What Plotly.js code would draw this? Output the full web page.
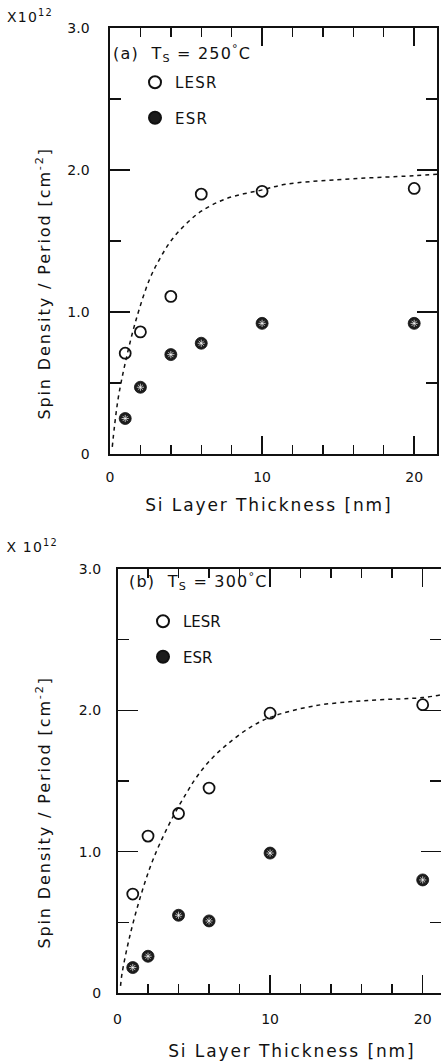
<!DOCTYPE html>
<html>
<head>
<meta charset="utf-8">
<script src="https://cdn.plot.ly/plotly-3.0.1.min.js"></script>
<style>
  html, body { margin: 0; padding: 0; background: #fff; overflow: hidden; }
  #chart { width: 441px; height: 1062px; }
  /* the lettering on these plots is widely spaced */
  #chart .annotation-text, #chart .legendtext { letter-spacing: 1.2px; }
  #chart g.annotation[data-index="2"] .annotation-text,
  #chart g.annotation[data-index="3"] .annotation-text,
  #chart g.annotation[data-index="6"] .annotation-text,
  #chart g.annotation[data-index="7"] .annotation-text { letter-spacing: 1.9px; }
</style>
</head>
<body>
<div id="chart"></div>
<script>
// Si layer thickness (nm) at which spin densities were measured
const thickness = [1, 2, 4, 6, 10, 20];

// (a) Ts = 250 C, spin density per period (x 10^12 cm^-2)
const lesrA = [0.71, 0.86, 1.11, 1.83, 1.85, 1.87];
const esrA  = [0.25, 0.47, 0.70, 0.78, 0.92, 0.92];
// dashed guide curve for (a)
const guideAx = [0.15, 0.3, 0.55, 1.0, 1.7, 2.6, 3.3, 4.0, 4.9, 6.0, 7.7, 10, 11.6, 14.7, 20, 21.5];
const guideAy = [0.05, 0.20, 0.40, 0.64, 0.94, 1.23, 1.38, 1.50, 1.61, 1.71, 1.80, 1.86, 1.90, 1.93, 1.96, 1.97];

// (b) Ts = 300 C
const lesrB = [0.70, 1.11, 1.27, 1.45, 1.98, 2.04];
const esrB  = [0.18, 0.26, 0.55, 0.51, 0.99, 0.80];
// dashed guide curve for (b)
const guideBx = [0.2, 0.3, 0.8, 1.5, 2.35, 3.6, 4.55, 5.2, 6.1, 7.2, 8.7, 10, 12.8, 16.4, 20, 21.2];
const guideBy = [0.05, 0.14, 0.40, 0.68, 0.95, 1.24, 1.42, 1.53, 1.65, 1.76, 1.88, 1.95, 2.03, 2.07, 2.09, 2.11];

// tick labels
const xTickVals = [0, 10, 20];
const xTickText = ['0', '10', '20'];
const yTickVals = [0, 1, 2, 3];
const yTickText = ['0', '1.0', '2.0', '3.0'];

const W = 441, H = 1062;
const fx = p => p / W;
const fy = p => 1 - p / H;

const INK = '#111';
const FONT = 'DejaVu Sans, Verdana, sans-serif';

function lesrTrace(y, xa, ya, lg) {
  return {
    x: thickness, y: y, xaxis: xa, yaxis: ya, legend: lg,
    type: 'scatter', mode: 'markers', name: 'LESR', legendgroup: lg + 'l',
    marker: { symbol: 'circle-open', size: 11, color: INK, line: { width: 1.8, color: INK } },
    cliponaxis: false
  };
}
function esrTrace(y, xa, ya, lg) {
  return {
    x: thickness, y: y, xaxis: xa, yaxis: ya, legend: lg,
    type: 'scatter', mode: 'markers', name: 'ESR', legendgroup: lg + 'e',
    marker: { symbol: 'circle', size: 12, color: '#1c1c1c', line: { width: 0.8, color: INK } },
    cliponaxis: false
  };
}
// speckled fill of the ESR symbols
function esrDots(y, xa, ya) {
  return {
    x: thickness, y: y, xaxis: xa, yaxis: ya, showlegend: false, hoverinfo: 'skip',
    type: 'scatter', mode: 'markers',
    marker: { symbol: 'asterisk-open', size: 6, color: 'rgba(255,255,255,0.7)', line: { width: 1, color: 'rgba(255,255,255,0.7)' } },
    cliponaxis: false
  };
}
function guideTrace(x, y, xa, ya) {
  return {
    x: x, y: y, xaxis: xa, yaxis: ya, showlegend: false, hoverinfo: 'skip',
    type: 'scatter', mode: 'lines',
    line: { color: INK, width: 1.5, dash: '4px,4px', shape: 'spline', smoothing: 1 }
  };
}

const data = [
  guideTrace(guideAx, guideAy, 'x', 'y'),
  lesrTrace(lesrA, 'x', 'y', 'legend'),
  esrTrace(esrA, 'x', 'y', 'legend'),
  esrDots(esrA, 'x', 'y'),
  guideTrace(guideBx, guideBy, 'x2', 'y2'),
  lesrTrace(lesrB, 'x2', 'y2', 'legend2'),
  esrTrace(esrB, 'x2', 'y2', 'legend2'),
  esrDots(esrB, 'x2', 'y2')
];

const tickFont = { family: FONT, size: 14, color: INK };

// ticks point inward on all four sides; long at labelled values, short between
function xAxis(domain, range, anchor, standoff) {
  return {
    domain: domain, range: range, anchor: anchor,
    tickmode: 'array', tickvals: xTickVals, ticktext: xTickText,
    ticks: 'inside', ticklen: 18, tickwidth: 1.5, tickcolor: INK,
    minor: { tickmode: 'linear', tick0: 0, dtick: 2, ticks: 'inside', ticklen: 9, tickwidth: 1.4, tickcolor: INK },
    showline: true, linecolor: INK, linewidth: 1.6, mirror: 'ticks',
    showgrid: false, zeroline: false, fixedrange: true,
    ticklabelstandoff: standoff, tickfont: tickFont
  };
}
function yAxis(domain, anchor, standoff) {
  return {
    domain: domain, range: [0, 3], anchor: anchor,
    tickmode: 'array', tickvals: yTickVals, ticktext: yTickText,
    ticks: 'inside', ticklen: 20, tickwidth: 1.5, tickcolor: INK,
    minor: { tickmode: 'linear', tick0: 0, dtick: 0.5, ticks: 'inside', ticklen: 11, tickwidth: 1.4, tickcolor: INK },
    showline: true, linecolor: INK, linewidth: 1.6, mirror: 'ticks',
    showgrid: false, zeroline: false, fixedrange: true,
    ticklabelstandoff: standoff, tickfont: tickFont
  };
}

function note(text, x, y, opts) {
  return Object.assign({
    text: text, xref: 'paper', yref: 'paper', x: fx(x), y: fy(y),
    xanchor: 'left', yanchor: 'middle', showarrow: false,
    font: { family: FONT, size: 14, color: INK }
  }, opts || {});
}

const legendStyle = {
  xanchor: 'left', yanchor: 'top', bgcolor: 'rgba(0,0,0,0)', borderwidth: 0,
  traceorder: 'grouped', tracegroupgap: 13, itemsizing: 'constant',
  font: { family: FONT, size: 15, color: INK }
};

const titleFont = { family: FONT, size: 16, color: INK };
const xTitleFont = { family: FONT, size: 17, color: INK };
const yTitleFont = { family: FONT, size: 16, color: INK };

const layout = {
  width: W, height: H,
  margin: { l: 0, r: 0, t: 0, b: 0 },
  paper_bgcolor: '#fff', plot_bgcolor: '#fff',
  xaxis: xAxis([fx(110), fx(437)], [0, 21.5], 'y', 10),
  yaxis: yAxis([fy(454), fy(28)], 'x', 16),
  xaxis2: xAxis([fx(117.5), 1], [0, 21.2], 'y2', 13),
  yaxis2: yAxis([fy(993), fy(569)], 'x2', 12),
  legend: Object.assign({ x: fx(135), y: fy(66) }, legendStyle),
  legend2: Object.assign({ x: fx(143), y: fy(605) }, legendStyle),
  annotations: [
    note('X10<sup>12</sup>', 8, 16),
    note('(a)  T<sub>S</sub> = 250<sup>°</sup>C', 120, 54, { font: titleFont }),
    note('Si Layer Thickness [nm]', 269, 505, { xanchor: 'center', font: xTitleFont }),
    note('Spin Density / Period [cm<sup>-2</sup>]', 43, 284, { xanchor: 'center', textangle: -90, font: yTitleFont }),
    note('X 10<sup>12</sup>', 8, 546),
    note('(b)  T<sub>S</sub> = 300<sup>°</sup>C', 136, 582, { font: titleFont }),
    note('Si Layer Thickness [nm]', 292, 1051, { xanchor: 'center', font: xTitleFont }),
    note('Spin Density / Period [cm<sup>-2</sup>]', 43, 813, { xanchor: 'center', textangle: -90, font: yTitleFont })
  ],
  showlegend: true
};

Plotly.newPlot('chart', data, layout, { staticPlot: true, displayModeBar: false });
</script>
</body>
</html>
